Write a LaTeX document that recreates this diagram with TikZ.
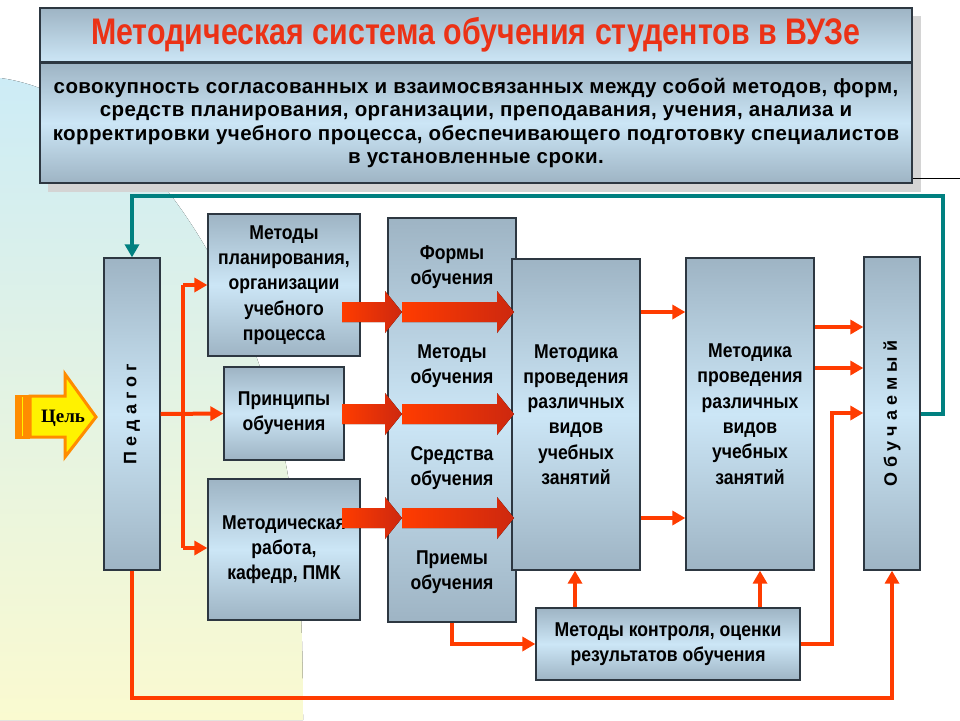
\documentclass[tikz,border=0pt]{standalone}
\usepackage{fontspec}
\setmainfont{Liberation Sans}
\newfontfamily\nar[FakeStretch=0.88]{Liberation Sans}
\newfontfamily\ttlfont[FakeStretch=0.82]{Liberation Sans}
\newfontfamily\deffont[LetterSpace=2]{Liberation Sans}
\newfontfamily\serifz{Liberation Serif}
\usetikzlibrary{arrows.meta,calc}
\definecolor{bgA}{RGB}{205,236,246}
\definecolor{bgB}{RGB}{250,250,208}
\definecolor{bxA}{RGB}{158,180,196}
\definecolor{bxB}{RGB}{204,230,246}
\definecolor{boxln}{RGB}{45,55,65}
\definecolor{redc}{RGB}{255,60,0}
\definecolor{redd}{RGB}{205,40,15}
\definecolor{tealc}{RGB}{0,128,128}
\definecolor{ttlred}{RGB}{235,50,22}
\definecolor{shad}{RGB}{212,212,212}
\definecolor{celorange}{RGB}{255,140,0}
\newcommand\bxfont{\nar\bfseries\fontsize{20}{25.3}\selectfont}
\tikzset{
  box/.style={draw=boxln, line width=1.3pt, top color=bxA, bottom color=bxA, middle color=bxB,
              inner sep=0pt, align=center, font=\bxfont},
  lbl/.style={inner sep=0pt, align=center, font=\bxfont},
  rl/.style={draw=redc, line width=4pt},
  rarr/.style={rl, -{Triangle[length=13pt,width=14pt]}},
  tl/.style={draw=tealc, line width=4pt, -{Triangle[length=13pt,width=14pt]}},
  vtxt/.style={inner sep=0pt, rotate=90, font=\bfseries\fontsize{18}{20}\selectfont},
}
\newcommand\blockarr[4]{% x1, x2, yc, head length
  \fill[left color=redc, right color=redd]
    ($(#1,#3)+(0,-10)$) -- ($(#2,#3)+(-#4,-10)$) -- ($(#2,#3)+(-#4,-21)$) -- (#2,#3)
    -- ($(#2,#3)+(-#4,21)$) -- ($(#2,#3)+(-#4,10)$) -- ($(#1,#3)+(0,10)$) -- cycle;}
\begin{document}
\begin{tikzpicture}[x=1pt,y=-1pt]
\useasboundingbox (0,0) rectangle (960,720);
% background blob
\fill[top color=bgA, bottom color=bgB] (0,78) .. controls (130,95) and (250,270) .. (287,470)
   .. controls (299,540) and (303,620) .. (303,720) -- (0,720) -- cycle;
% header
\fill[shad] (48,16) rectangle (921,192);
\draw[black, line width=1pt] (912,178) -- (960,178);
\node[draw=boxln, line width=1.3pt, top color=bxA, bottom color=bxB, minimum width=872pt, minimum height=54pt, inner sep=0pt,
      font=\ttlfont\bfseries\fontsize{37}{40}\selectfont, text=ttlred] (title) at (476,35)
      {Методическая система обучения студентов в ВУЗе};
\node[draw=boxln, line width=1.3pt, top color=bxA, bottom color=bxA, middle color=bxB, minimum width=872pt, minimum height=120pt,
      inner sep=0pt, align=center, font=\deffont\bfseries\fontsize{20.5}{23.5}\selectfont] (def) at (476,123)
      {совокупность согласованных и взаимосвязанных между собой методов, форм,\\
       средств планирования, организации, преподавания, учения, анализа и\\
       корректировки учебного процесса, обеспечивающего подготовку специалистов\\
       в установленные сроки.};
% boxes (nodes)
\node[box, minimum width=56pt, minimum height=312pt] (ped) at (132,414) {};
\node[vtxt] at (ped.center) {П е д а г о г};
\node[box, minimum width=152pt, minimum height=142pt] (mp) at (284,285)
   {Методы\\планирования,\\организации\\учебного\\процесса};
\node[box, minimum width=120pt, minimum height=93pt] (pr) at (284,413.5) {Принципы\\обучения};
\node[box, minimum width=152pt, minimum height=141pt] (mr) at (284,549.5)
   {Методическая\\работа,\\кафедр, ПМК};
\node[box, minimum width=128pt, minimum height=404pt] (col) at (452,420) {};
\node[box, minimum width=128pt, minimum height=311pt] (mk1) at (576,414.5)
   {Методика\\проведения\\различных\\видов\\учебных\\занятий};
\node[box, minimum width=128pt, minimum height=312pt] (mk2) at (750,414)
   {Методика\\проведения\\различных\\видов\\учебных\\занятий};
\node[box, minimum width=56pt, minimum height=313pt] (ob) at (892,413.5) {};
\node[vtxt] at (ob.center) {О б у ч а е м ы й};
\node[box, minimum width=264pt, minimum height=72pt] (mc) at (668,644)
   {Методы контроля, оценки\\результатов обучения};
% column labels
\node[lbl] (f1) at (452,267) {Формы\\обучения};
\node[lbl] (f2) at (452,366) {Методы\\обучения};
\node[lbl] (f3) at (452,468) {Средства\\обучения};
\node[lbl] (f4) at (452,572) {Приемы\\обучения};
% teal feedback
\coordinate (tr) at (943,196);
\draw[tl] (ob.east) -- (ob.east -| tr) -- (tr) -- (tr -| ped.north) -- (ped.north);
% red connectors
\coordinate (bt) at (183,285);
\coordinate (bb) at (183,548);
\draw[rl] (bt) -- (bb);
\draw[rarr] (bt) -- (bt -| mp.west);
\draw[rarr] (bb) -- (bb -| mr.west);
\draw[rarr] (ped.east) -- (pr.west);
\coordinate (r1) at (0,312);
\coordinate (r2) at (0,518);
\draw[rarr] (mk1.east |- r1) -- (mk2.west |- r1);
\draw[rarr] (mk1.east |- r2) -- (mk2.west |- r2);
\coordinate (s1) at (0,327);
\coordinate (s2) at (0,368);
\draw[rarr] (mk2.east |- s1) -- (ob.west |- s1);
\draw[rarr] (mk2.east |- s2) -- (ob.west |- s2);
\coordinate (cv) at (832,413);
\draw[rarr] (mc.east) -- (mc.east -| cv) -- (cv) -- (ob.west |- cv);
\coordinate (u1) at (575,0);
\coordinate (u2) at (760,0);
\draw[rarr] (u1 |- mc.north) -- (u1 |- mk1.south);
\draw[rarr] (u2 |- mc.north) -- (u2 |- mk2.south);
\draw[rarr] (col.south) -- (col.south |- mc.west) -- (mc.west);
\coordinate (lb) at (0,698);
\draw[rarr] (ped.south) -- (ped.south |- lb) -- (ob.south |- lb) -- (ob.south);
% block arrows
\blockarr{342}{402}{312}{17}
\blockarr{402}{514}{312}{17}
\blockarr{342}{402}{414}{17}
\blockarr{402}{514}{414}{17}
\blockarr{342}{402}{518}{17}
\blockarr{402}{514}{518}{17}
% goal arrow
\draw[draw=celorange, fill=yellow, line width=3pt, line join=miter]
   (30,396) -- (65,396) -- (65,374) -- (96,417) -- (65,457) -- (65,437) -- (30,437) -- cycle;
\fill[celorange] (15,394.5) rectangle (30,438.5);
\draw[yellow, line width=1.5pt] (22.5,397) -- (22.5,436);
\node[inner sep=0pt, font=\serifz\bfseries\fontsize{19}{20}\selectfont] (goal) at (63,418) {Цель};
\end{tikzpicture}
\end{document}
